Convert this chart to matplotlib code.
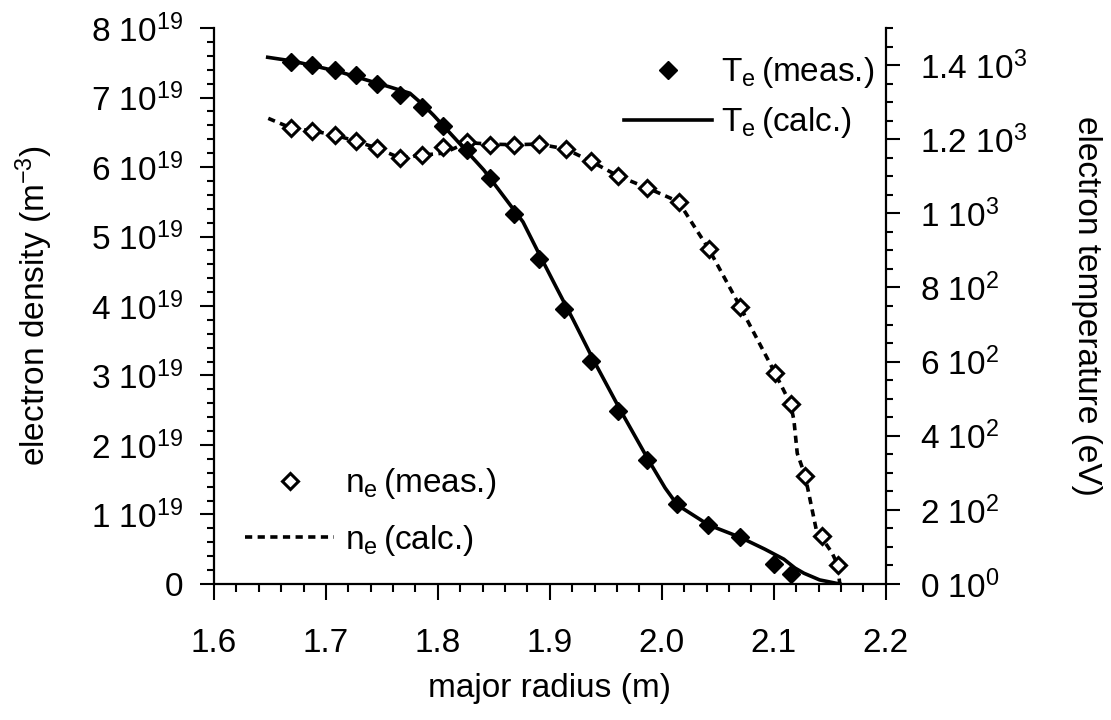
import matplotlib
matplotlib.use("Agg")
import matplotlib.pyplot as plt
from matplotlib.ticker import MultipleLocator, FuncFormatter

plt.rcParams['font.family'] = ['Liberation Sans', 'DejaVu Sans']
plt.rcParams['mathtext.default'] = 'regular'
plt.rcParams['font.size'] = 24

# measured electron temperature (eV)
r_te_meas = [1.669, 1.688, 1.708, 1.727, 1.746, 1.766, 1.786, 1.805, 1.826, 1.847,
             1.868, 1.890, 1.913, 1.937, 1.961, 1.987, 2.014, 2.041, 2.070, 2.100, 2.115]
te_meas = [1408, 1400, 1388, 1372, 1350, 1319, 1288, 1236, 1171, 1095,
           999, 877, 741, 602, 467, 335, 216, 159, 126, 54, 27]

# calculated electron temperature (eV)
r_te_calc = [1.648, 1.670, 1.692, 1.713, 1.736, 1.757, 1.775, 1.786, 1.796, 1.815,
             1.841, 1.860, 1.876, 1.890, 1.906, 1.921, 1.939, 1.963, 1.988, 2.003,
             2.014, 2.042, 2.070, 2.092, 2.109, 2.119, 2.127, 2.141, 2.159]
te_calc = [1421, 1411, 1396, 1381, 1360, 1341, 1324, 1295, 1265, 1203,
           1117, 1041, 977, 893, 799, 712, 604, 469, 335, 259,
           213, 159, 126, 94, 67, 43, 29, 11, 0]

# measured electron density (1e19 m^-3)
r_ne_meas = [1.669, 1.688, 1.708, 1.727, 1.746, 1.766, 1.786, 1.805, 1.826, 1.847,
             1.868, 1.890, 1.914, 1.937, 1.961, 1.987, 2.015, 2.042, 2.070, 2.101,
             2.115, 2.128, 2.143, 2.157]
ne_meas = [6.56, 6.52, 6.46, 6.37, 6.27, 6.13, 6.17, 6.29, 6.36, 6.31,
           6.32, 6.33, 6.26, 6.08, 5.87, 5.70, 5.50, 4.82, 3.99, 3.04,
           2.59, 1.56, 0.69, 0.28]

# calculated electron density (1e19 m^-3)
r_ne_calc = [1.6485, 1.669, 1.688, 1.708, 1.727, 1.746, 1.766, 1.786, 1.805, 1.826,
             1.847, 1.868, 1.890, 1.914, 1.937, 1.961, 1.987, 2.015, 2.028, 2.042,
             2.070, 2.101, 2.115, 2.118, 2.121, 2.128, 2.138, 2.152, 2.157, 2.159]
ne_calc = [6.70, 6.56, 6.52, 6.46, 6.37, 6.27, 6.13, 6.17, 6.20, 6.35,
           6.33, 6.32, 6.33, 6.26, 6.08, 5.87, 5.70, 5.50, 5.17, 4.82,
           3.99, 3.04, 2.59, 2.36, 1.88, 1.56, 0.78, 0.45, 0.28, 0.0]

fig = plt.figure(figsize=(11.11, 7.2), dpi=100)
ax = fig.add_axes([0.1926, 0.1889, 0.6046, 0.7722])
ax2 = ax.twinx()

ax.plot(r_ne_meas, [v * 1e19 for v in ne_meas], 'D', ms=8.5, mfc='white', mec='black',
        mew=2.2, label=r'n$_e\,$(meas.)', zorder=3)
ax.plot(r_ne_calc, [v * 1e19 for v in ne_calc], color='black', lw=2.6,
        dashes=(2.0, 1.5), label=r'n$_e\,$(calc.)', zorder=2)

ax2.plot(r_te_calc, te_calc, color='black', lw=2.6, label=r'T$_e\,$(calc.)', zorder=2)
ax2.plot(r_te_meas, te_meas, 'D', ms=9.5, color='black', mew=1.0,
         label=r'T$_e\,$(meas.)', zorder=3)

ax.set_xlim(1.6, 2.2)
ax.set_ylim(0, 8e19)
ax2.set_ylim(0, 1500)

ax.xaxis.set_major_locator(MultipleLocator(0.1))
ax.xaxis.set_minor_locator(MultipleLocator(0.02))
ax.xaxis.set_major_formatter(FuncFormatter(lambda v, p: f'{v:.1f}'))
ax.yaxis.set_major_locator(MultipleLocator(1e19))
ax.yaxis.set_minor_locator(MultipleLocator(0.2e19))
ax2.yaxis.set_major_locator(MultipleLocator(200))
ax2.yaxis.set_minor_locator(MultipleLocator(50))


def dens_fmt(v, p):
    if abs(v) < 1e15:
        return '0'
    return f'{v / 1e19:g} 10$^{{19}}$'


def temp_fmt(v, p):
    if abs(v) < 1e-6:
        return '0 10$^{0}$'
    if v < 1000:
        return f'{v / 100:g} 10$^{{2}}$'
    return f'{v / 1000:g} 10$^{{3}}$'


ax.yaxis.set_major_formatter(FuncFormatter(dens_fmt))
ax2.yaxis.set_major_formatter(FuncFormatter(temp_fmt))

for a in (ax, ax2):
    a.spines['top'].set_visible(False)
    for s in a.spines.values():
        s.set_linewidth(1.6)
ax.spines['right'].set_visible(False)
ax2.spines['left'].set_visible(False)
ax2.spines['bottom'].set_visible(False)

ax.tick_params(axis='x', which='major', direction='out', length=11.5, width=1.5, pad=20)
ax.tick_params(axis='x', which='minor', direction='out', length=6, width=1.5)
ax.tick_params(axis='y', which='major', direction='out', length=10, width=1.5, pad=12)
ax.tick_params(axis='y', which='minor', direction='out', length=5, width=1.5)
ax2.tick_params(axis='y', which='major', direction='out', length=10, width=1.5, pad=15)
ax2.tick_params(axis='y', which='minor', direction='out', length=5, width=1.5)

ax.set_xlabel('major radius (m)', labelpad=10)
ax.set_ylabel('electron density (m$^{-3}$)', labelpad=26)
ax2.set_ylabel('electron temperature (eV)', rotation=270, labelpad=54)

h2, l2 = ax2.get_legend_handles_labels()
leg2 = ax2.legend(h2[::-1], l2[::-1], loc='upper right', bbox_to_anchor=(1.002, 0.975),
                  frameon=False, handlelength=2.65, handletextpad=0.25,
                  labelspacing=0.45, borderaxespad=0)
h1, l1 = ax.get_legend_handles_labels()
leg1 = ax2.legend(h1, l1, loc='lower left', bbox_to_anchor=(0.027, 0.023),
                  frameon=False, handlelength=2.65, handletextpad=0.35,
                  labelspacing=0.65, borderaxespad=0)
ax2.add_artist(leg2)

fig.savefig('out.png', dpi=100)
